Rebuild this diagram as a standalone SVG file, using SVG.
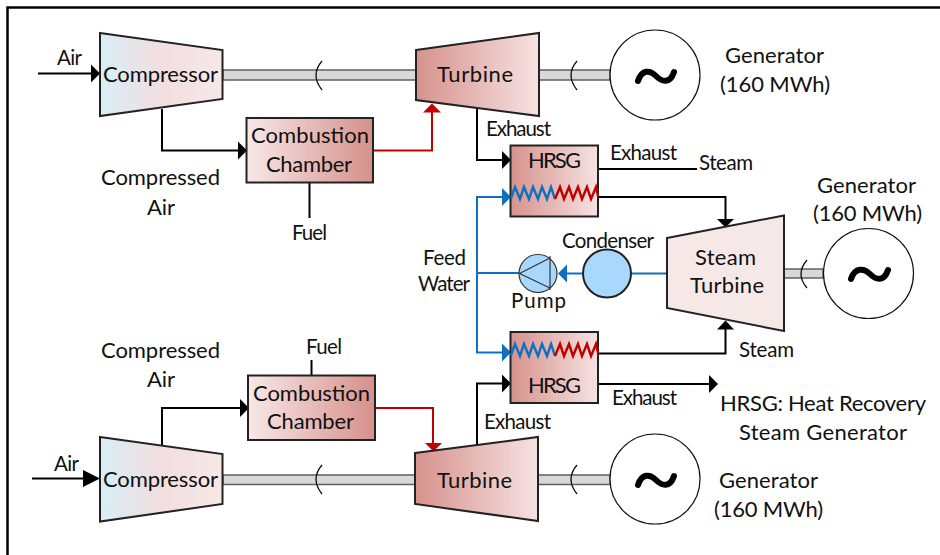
<svg xmlns="http://www.w3.org/2000/svg" width="940" height="555" viewBox="0 0 940 555">
<style>
text{font-family:"Lato","Carlito","Open Sans",sans-serif;font-size:22px;fill:#111}
.m{font-size:20.500px}
.n{stroke:#222;stroke-width:2}
.k{fill:none;stroke:#000;stroke-width:2}
.b{fill:none;stroke:#0f70c0;stroke-width:2}
.r{fill:none;stroke:#c00000;stroke-width:2}
.s{fill:#d8d8d8;stroke:#606060;stroke-width:1.5}
.w{fill:none;stroke:#111;stroke-width:1.3}
.g{fill:#fff;stroke:#111;stroke-width:1.2}
.t{fill:none;stroke:#000;stroke-width:6;stroke-linecap:round}
.c1{fill:none;stroke:#0f70c0;stroke-width:2.4}
.c2{fill:none;stroke:#c00000;stroke-width:2.4}
</style>
<defs>
<linearGradient id="gc"><stop offset="0" stop-color="#d8eef7"/><stop offset=".5" stop-color="#f2dedf"/><stop offset="1" stop-color="#f7e8e8"/></linearGradient>
<linearGradient id="gt"><stop offset="0" stop-color="#d6928c"/><stop offset="1" stop-color="#f6e2e2"/></linearGradient>
<linearGradient id="gb"><stop offset="0" stop-color="#f7e8e8"/><stop offset="1" stop-color="#d6908a"/></linearGradient>
</defs>
<path d="M7.5,555V7.5H940" fill="none" stroke="#000" stroke-width="2.5"/>
<g id="connectors">
<path class="k" d="M38,73.5H92"/><path d="M91,64.5L100,73.5L91,82.5Z"/>
<path class="k" d="M162,109V150.5H239"/><path d="M238,141.5L247,150.5L238,159.5Z"/>
<path class="k" d="M309.5,183V218"/>
<path class="r" d="M373,150.5H432V111"/><path d="M423,112.5L432,103.5L441,112.5Z" fill="#c00000"/>
<path class="k" d="M477,109V160H503"/><path d="M502,151L511,160L502,169Z"/>
<path class="k" d="M598,169H697"/>
<path class="k" d="M598,197H725.5V220"/><path d="M717,219L725.5,227.5L734,219Z"/>
<path class="k" d="M598,353.5H725.5V328"/><path d="M717,329.5L725.5,320.5L734,329.5Z"/>
<path class="b" d="M503,197H477V352.5H503"/><path d="M502,188L511,197L502,206Z" fill="#0f70c0"/><path d="M502,343.5L511,352.5L502,361.5Z" fill="#0f70c0"/>
<path class="b" d="M477,273H519"/>
<path class="b" d="M631,273.5H667"/>
<path class="b" d="M566,273.5H583"/><path d="M567,264.5L558,273.5L567,282.5Z" fill="#0f70c0"/>
<path class="k" d="M477,445V383.5H503"/><path d="M502,374.5L511,383.5L502,392.5Z"/>
<path class="k" d="M598,384H710"/><path d="M709,375L718,384L709,393Z"/>
<path class="k" d="M32,478.5H85"/><path d="M83,470L100,478.5L83,487Z"/>
<path class="k" d="M162,445V408H241"/><path d="M240,399L249,408L240,417Z"/>
<path class="k" d="M311.5,360V375"/>
<path class="r" d="M375,408H433V444"/><path d="M425,443L433.5,451.5L442,443Z" fill="#c00000"/>
</g>
<g id="shaft-top">
<rect class="s" x="223" y="70" width="193" height="10"/><rect class="s" x="539" y="70" width="71" height="10"/>
<path class="w" d="M322,61Q310,75 322,90"/><path class="w" d="M577,61Q565,75 577,90"/>
</g>
<g id="shaft-right">
<rect class="s" x="784" y="269" width="39" height="9"/><path class="w" d="M807,260Q795,274 807,288"/>
</g>
<g id="shaft-bottom">
<rect class="s" x="223" y="475" width="192" height="9.500"/><rect class="s" x="538" y="475" width="72" height="9.500"/>
<path class="w" d="M322,465Q310,479 322,494"/><path class="w" d="M577,465Q565,479 577,494"/>
</g>
<g id="compressor-top"><path class="n" fill="url(#gc)" d="M100,33L222.500,50V99L100,116Z"/><text x="103" y="82" textLength="115">Compressor</text></g>
<g id="turbine-top"><path class="n" fill="url(#gt)" d="M416,50L539,33V116L416,100Z"/><text x="437" y="82" textLength="76">Turbine</text></g>
<g id="generator-top"><circle class="g" cx="655" cy="75" r="45"/><path class="t" d="M638,81C642,69 650,70 656,76C662,82 670,84 674,72"/></g>
<g id="combustion-top"><rect class="n" fill="url(#gb)" x="246.500" y="118" width="126.500" height="64.500"/><text x="251" y="143" textLength="118">Combustion</text><text x="266" y="172" textLength="86">Chamber</text></g>
<g id="hrsg-top"><rect class="n" fill="url(#gt)" x="510.500" y="145.500" width="87.500" height="71"/><text x="528" y="168" textLength="53">HRSG</text>
<path class="c1" d="M511,198L515,187L520,199L524,187L529,199L533,187L538,199L542,187L547,199L551,187L555,199"/>
<path class="c2" d="M555,199L560,187L564,199L569,187L573,199L578,187L582,199L587,187L591,199L596,187L598,196"/></g>
<g id="pump"><circle cx="538" cy="273.500" r="19" fill="#a9d8ff" stroke="#333" stroke-width="1.200"/><path d="M519.500,273.500L550,258M519.500,273.500L550,288M550,256V290" fill="none" stroke="#333" stroke-width="1.200"/><text class="m" x="511" y="308" textLength="55">Pump</text></g>
<g id="condenser"><circle class="n" cx="607" cy="273.500" r="24" fill="#a9d8ff"/><text class="m" x="562" y="248" textLength="92">Condenser</text></g>
<g id="steam-turbine"><path class="n" fill="#f7e8e8" d="M667,238L784,215.500V331L667,308Z"/><text x="695" y="265" textLength="61">Steam</text><text x="690" y="293" textLength="74">Turbine</text></g>
<g id="generator-right"><circle class="g" cx="868.500" cy="273.500" r="45"/><path class="t" d="M851,279C855,267 864,268 870,274C876,280 884,282 888,270"/></g>
<g id="hrsg-bottom"><rect class="n" fill="url(#gt)" x="510.500" y="332" width="87.500" height="71"/><text x="528" y="393" textLength="53">HRSG</text>
<path class="c1" d="M511,355L515,344L520,356L524,344L529,356L533,344L538,356L542,344L547,356L551,344L555,356"/>
<path class="c2" d="M555,356L560,344L564,356L569,344L573,356L578,344L582,356L587,344L591,356L596,344L598,353"/></g>
<g id="combustion-bottom"><rect class="n" fill="url(#gb)" x="248" y="375.500" width="127" height="64.500"/><text x="253" y="401" textLength="117">Combustion</text><text x="267" y="429" textLength="87">Chamber</text></g>
<g id="compressor-bottom"><path class="n" fill="url(#gc)" d="M100,437L222.500,454V504L100,521.500Z"/><text x="103" y="487" textLength="115">Compressor</text></g>
<g id="turbine-bottom"><path class="n" fill="url(#gt)" d="M415,453L538,437V521L415,504Z"/><text x="437" y="488" textLength="75">Turbine</text></g>
<g id="generator-bottom"><circle class="g" cx="655" cy="479" r="45"/><path class="t" d="M638,485C642,473 650,474 656,480C662,486 670,488 674,476"/></g>
<g id="labels">
<text class="m" x="57" y="65" textLength="25">Air</text>
<text x="101" y="185" textLength="119">Compressed</text><text x="147" y="215" textLength="28">Air</text>
<text class="m" x="292" y="240" textLength="35">Fuel</text>
<text class="m" x="423" y="265" textLength="43">Feed</text><text class="m" x="418" y="291" textLength="52">Water</text>
<text class="m" x="486" y="136" textLength="65">Exhaust</text>
<text class="m" x="610" y="160" textLength="67">Exhaust</text>
<text class="m" x="699" y="170" textLength="54">Steam</text>
<text x="725" y="63" textLength="99">Generator</text><text x="720" y="92" textLength="110">(160 MWh)</text>
<text x="817" y="193" textLength="99">Generator</text><text x="813" y="221" textLength="109">(160 MWh)</text>
<text class="m" x="739" y="357" textLength="55">Steam</text>
<text class="m" x="612" y="405" textLength="65">Exhaust</text>
<text class="m" x="484" y="429" textLength="67">Exhaust</text>
<text x="720" y="411" textLength="206">HRSG: Heat Recovery</text><text x="739" y="440" textLength="168">Steam Generator</text>
<text x="719" y="488" textLength="99">Generator</text><text x="714" y="517" textLength="109">(160 MWh)</text>
<text x="101" y="358" textLength="119">Compressed</text><text x="147" y="387" textLength="28">Air</text>
<text class="m" x="306" y="354" textLength="36">Fuel</text>
<text class="m" x="54" y="471" textLength="25">Air</text>
</g>
</svg>
